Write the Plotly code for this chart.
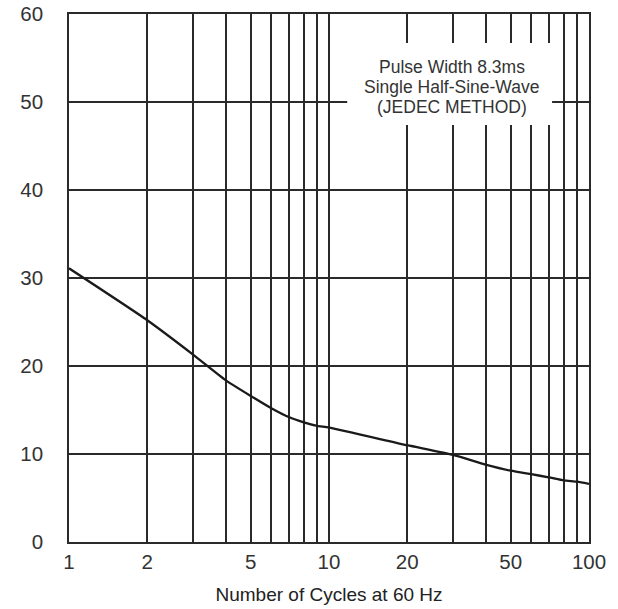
import plotly.graph_objects as go

# Data
cycles = [1, 2, 3, 4, 5, 6, 7, 8, 9, 10, 20, 30, 40, 50, 60, 70, 80, 90, 100]
peak_current = [31.1, 25.2, 21.3, 18.4, 16.6, 15.2, 14.2, 13.6, 13.2, 13.0,
                11.0, 9.9, 8.8, 8.1, 7.7, 7.35, 7.0, 6.85, 6.6]

grid_vals = [1, 2, 3, 4, 5, 6, 7, 8, 9, 10, 20, 30, 40, 50, 60, 70, 80, 90, 100]
labeled = {1: "1", 2: "2", 5: "5", 10: "10", 20: "20", 50: "50", 100: "100"}
grid_text = [labeled.get(v, "") for v in grid_vals]
y_ticks = [0, 10, 20, 30, 40, 50, 60]

note_lines = ["Pulse Width 8.3ms", "Single Half-Sine-Wave", "(JEDEC METHOD)"]
x_title = "Number of Cycles at 60 Hz"

GRID = "#2a2a2a"
TXT = "#333333"
FONT = "Liberation Sans, Arial, sans-serif"

fig = go.Figure()
fig.add_trace(go.Scatter(
    x=cycles, y=peak_current, mode="lines",
    line=dict(color="#1a1a1a", width=2.3, shape="spline", smoothing=0.5),
    showlegend=False, hoverinfo="skip",
))

fig.update_layout(
    width=618, height=609,
    margin=dict(l=69, r=29, t=14, b=67, autoexpand=False),
    paper_bgcolor="white", plot_bgcolor="white",
    font=dict(family=FONT, color=TXT, size=20),
    xaxis=dict(
        type="log", range=[0, 2], automargin=False,
        tickvals=grid_vals, ticktext=grid_text,
        showgrid=True, gridcolor=GRID, gridwidth=1.5,
        showline=True, linecolor=GRID, linewidth=1.5, mirror=True,
        ticks="outside", ticklen=1, tickcolor="rgba(0,0,0,0)",
        tickfont=dict(size=20.5, color=TXT), ticklabeloverflow="allow",
        title=dict(text=x_title, font=dict(size=19, color="#222222"), standoff=15),
        zeroline=False,
    ),
    yaxis=dict(
        range=[0, 60], tickvals=y_ticks, automargin=False,
        showgrid=True, gridcolor=GRID, gridwidth=1.5,
        showline=True, linecolor=GRID, linewidth=1.5, mirror=True,
        ticks="outside", ticklen=20, tickcolor="rgba(0,0,0,0)",
        tickfont=dict(size=20.5, color=TXT), ticklabeloverflow="allow",
        zeroline=False,
    ),
)

# white box behind the note
fig.add_shape(
    type="rect", xref="paper", yref="paper",
    x0=0.535, x1=0.929, y0=0.790, y1=0.945,
    fillcolor="white", line=dict(width=0), layer="above",
)
for line_text, ypos in zip(note_lines, [0.899, 0.862, 0.824]):
    fig.add_annotation(
        xref="paper", yref="paper", x=0.7365, y=ypos,
        xanchor="center", yanchor="middle",
        text=line_text, showarrow=False,
        font=dict(size=17.5, color="#333333", family=FONT),
    )

fig.write_html("out.html", config={"displayModeBar": False},
               post_script="document.body.style.margin='0px';")
